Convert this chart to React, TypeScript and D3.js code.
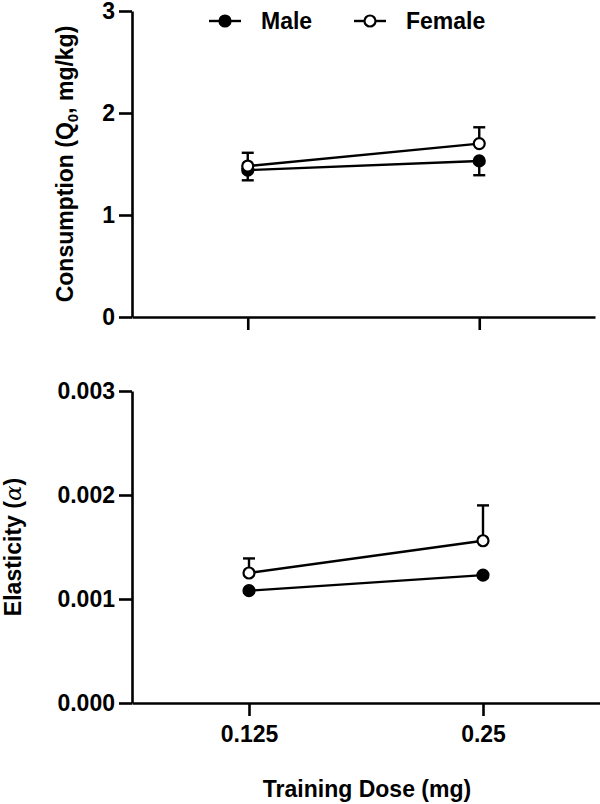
import React, { useEffect, useRef } from "react";
import * as d3 from "d3";

const doses = ["0.125", "0.25"];
const seriesNames = ["Male", "Female"];

// consumption Q0 (mg/kg)
const q0Male = [1.44, 1.53];
const q0MaleErr = [0.1, 0.14];
const q0Female = [1.48, 1.7];
const q0FemaleErr = [0.13, 0.16];

// elasticity alpha
const alphaMale = [0.00108, 0.00123];
const alphaMaleErr = [0.00002, 0.00002];
const alphaFemale = [0.00125, 0.00156];
const alphaFemaleErr = [0.00014, 0.00034];

const q0Ticks = [0, 1, 2, 3];
const alphaTicks = [0, 0.001, 0.002, 0.003];

function App() {
  const ref = useRef<SVGSVGElement>(null);

  useEffect(() => {
    const width = 600;
    const height = 804;
    const font = "'Liberation Sans', Arial, sans-serif";

    const svg = d3.select(ref.current).attr("width", width).attr("height", height);
    svg.selectAll("*").remove();

    const panels = [
      {
        male: q0Male, maleErr: q0MaleErr, female: q0Female, femaleErr: q0FemaleErr,
        ticks: q0Ticks, fmt: d3.format("d"), domain: [0, 3],
        y: [317, 11], x: [132, 595], labelX: 73
      },
      {
        male: alphaMale, maleErr: alphaMaleErr, female: alphaFemale, femaleErr: alphaFemaleErr,
        ticks: alphaTicks, fmt: d3.format(".3f"), domain: [0, 0.003],
        y: [703, 391], x: [132, 600], labelX: 21
      }
    ];

    panels.forEach((p, pi) => {
      const x = d3.scalePoint().domain(doses).range(p.x).padding(0.5);
      const y = d3.scaleLinear().domain(p.domain).range(p.y);
      const g = svg.append("g");

      // y axis
      const yAxis = g.append("g")
        .attr("transform", `translate(${p.x[0]},0)`)
        .call(d3.axisLeft(y).tickValues(p.ticks).tickFormat(p.fmt as any).tickSize(13).tickPadding(4).tickSizeOuter(0));
      yAxis.select(".domain").attr("stroke", "#000").attr("stroke-width", 2.6);
      yAxis.selectAll(".tick line").attr("stroke", "#000").attr("stroke-width", 2.6);
      yAxis.selectAll(".tick text")
        .attr("font-family", font).attr("font-weight", "bold").attr("font-size", 23).attr("fill", "#000");

      // x axis
      const xAxis = g.append("g")
        .attr("transform", `translate(0,${p.y[0]})`)
        .call(d3.axisBottom(x).tickSize(13).tickSizeOuter(0).tickPadding(10));
      xAxis.select(".domain").attr("stroke", "#000").attr("stroke-width", 2.6);
      xAxis.selectAll(".tick line").attr("stroke", "#000").attr("stroke-width", 2.6);
      if (pi === 0) {
        xAxis.selectAll(".tick text").remove();
      } else {
        xAxis.selectAll(".tick text")
          .attr("font-family", font).attr("font-weight", "bold").attr("font-size", 23).attr("fill", "#000");
      }

      // y axis title
      const cy = (p.y[0] + p.y[1]) / 2;
      const title = g.append("text")
        .attr("transform", `translate(${p.labelX},${cy}) rotate(-90)`)
        .attr("text-anchor", "middle")
        .attr("font-family", font).attr("font-weight", "bold").attr("font-size", 23);
      if (pi === 0) {
        title.append("tspan").text("Consumption (Q");
        title.append("tspan").attr("font-size", 15).attr("dy", 5).text("0");
        title.append("tspan").attr("dy", -5).text(", mg/kg)");
      } else {
        title.append("tspan").text("Elasticity (");
        title.append("tspan").attr("font-family", "'DejaVu Serif', serif").attr("font-weight", "normal").attr("font-style", "italic").text("α");
        title.append("tspan").text(")");
      }

      const series = [
        { vals: p.male, errs: p.maleErr, dir: 1, fill: "#000" },
        { vals: p.female, errs: p.femaleErr, dir: -1, fill: "#fff" }
      ];

      series.forEach(s => {
        // error bars (one-sided)
        const eb = g.append("g").attr("stroke", "#000").attr("stroke-width", 2.4);
        doses.forEach((d, i) => {
          const cx = x(d)!;
          const y0 = y(s.vals[i]);
          const y1 = y(s.vals[i] - s.dir * s.errs[i]);
          eb.append("line").attr("x1", cx).attr("x2", cx).attr("y1", y0).attr("y2", y1);
          eb.append("line").attr("x1", cx - 6).attr("x2", cx + 6).attr("y1", y1).attr("y2", y1);
        });

        const line = d3.line<number>().x((_, i) => x(doses[i])!).y(v => y(v));
        g.append("path")
          .attr("d", line(s.vals))
          .attr("fill", "none").attr("stroke", "#000").attr("stroke-width", 2.4);
      });

      series.forEach(s => {
        g.append("g").selectAll("circle")
          .data(s.vals)
          .join("circle")
          .attr("cx", (_, i) => x(doses[i])!)
          .attr("cy", v => y(v))
          .attr("r", 5.5)
          .attr("fill", s.fill)
          .attr("stroke", "#000")
          .attr("stroke-width", 2.2);
      });
    });

    // x axis title
    svg.append("text")
      .attr("x", 367).attr("y", 797)
      .attr("text-anchor", "middle")
      .attr("font-family", font).attr("font-weight", "bold").attr("font-size", 23)
      .text("Training Dose (mg)");

    // legend
    const legend = svg.append("g");
    const legendX = [225, 370];
    seriesNames.forEach((name, i) => {
      const lx = legendX[i];
      legend.append("line")
        .attr("x1", lx - 16).attr("x2", lx + 16).attr("y1", 21).attr("y2", 21)
        .attr("stroke", "#000").attr("stroke-width", 2.4);
      legend.append("circle")
        .attr("cx", lx).attr("cy", 21).attr("r", 5.5)
        .attr("fill", i === 0 ? "#000" : "#fff").attr("stroke", "#000").attr("stroke-width", 2.2);
      legend.append("text")
        .attr("x", lx + 36).attr("y", 29)
        .attr("font-family", font).attr("font-weight", "bold").attr("font-size", 23)
        .text(name);
    });
  }, []);

  return <svg ref={ref} style={{ position: "absolute", left: 0, top: 0 }}></svg>;
}

export default App;
